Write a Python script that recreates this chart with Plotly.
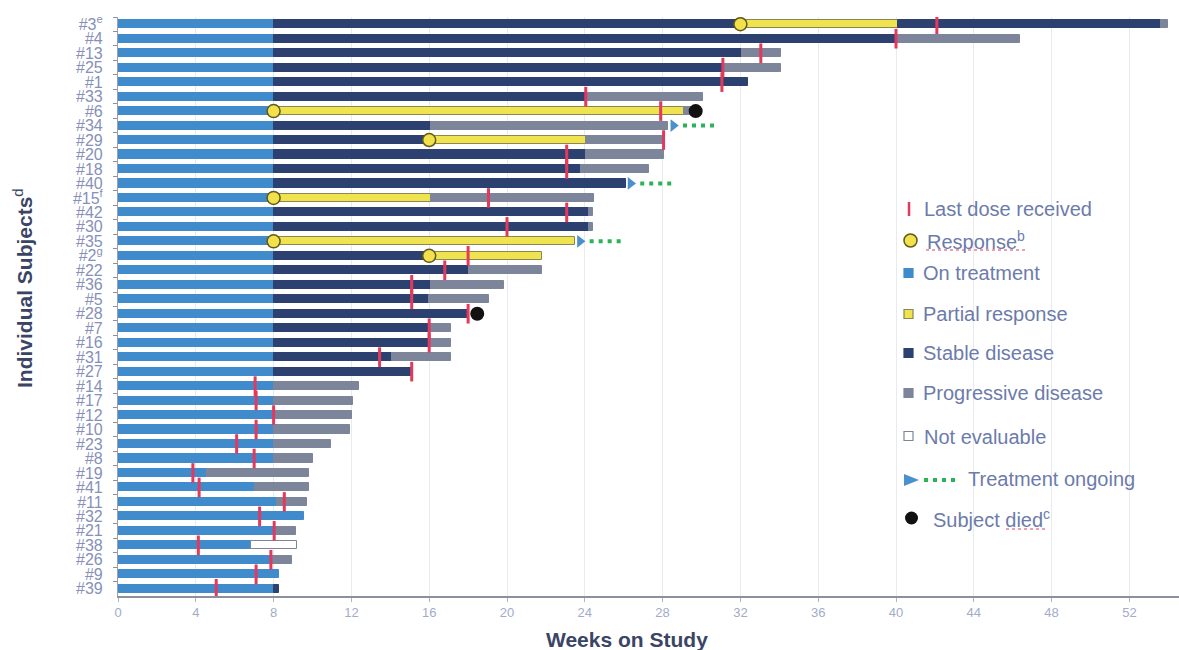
import plotly.graph_objects as go

# ---------------------------------------------------------------- data
subjects = ["#3<sup>e</sup>", "#4", "#13", "#25", "#1", "#33", "#6", "#34", "#29", "#20",
            "#18", "#40", "#15<sup>f</sup>", "#42", "#30", "#35", "#2<sup>g</sup>", "#22", "#36", "#5",
            "#28", "#7", "#16", "#31", "#27", "#14", "#17", "#12", "#10", "#23",
            "#8", "#19", "#41", "#11", "#32", "#21", "#38", "#26", "#9", "#39"]

# Each course is a run of (status, week the status ends); every course starts at week 0.
# T = on treatment, PR = partial response, SD = stable disease,
# PD = progressive disease, NE = not evaluable
courses = [
    [("T", 8), ("SD", 32), ("PR", 40.1), ("SD", 53.65), ("PD", 54.0)],
    [("T", 8), ("SD", 40.1), ("PD", 46.4)],
    [("T", 8), ("SD", 32.1), ("PD", 34.1)],
    [("T", 8), ("SD", 31.2), ("PD", 34.1)],
    [("T", 8), ("SD", 32.4)],
    [("T", 8), ("SD", 24.05), ("PD", 30.1)],
    [("T", 8), ("PR", 29.1), ("PD", 29.5)],
    [("T", 8), ("SD", 16.1), ("PD", 28.3)],
    [("T", 8), ("SD", 16.0), ("PR", 24.05), ("PD", 28.05)],
    [("T", 8), ("SD", 24.05), ("PD", 28.05)],
    [("T", 8), ("SD", 23.8), ("PD", 27.3)],
    [("T", 8), ("SD", 26.1)],
    [("T", 8), ("PR", 16.07), ("PD", 24.46)],
    [("T", 8), ("SD", 24.2), ("PD", 24.4)],
    [("T", 8), ("SD", 24.2), ("PD", 24.4)],
    [("T", 8), ("PR", 23.5)],
    [("T", 8), ("SD", 16.0), ("PR", 21.8)],
    [("T", 8), ("SD", 18.07), ("PD", 21.8)],
    [("T", 8), ("SD", 16.07), ("PD", 19.85)],
    [("T", 8), ("SD", 16.0), ("PD", 19.05)],
    [("T", 8), ("SD", 18.0)],
    [("T", 8), ("SD", 16.0), ("PD", 17.1)],
    [("T", 8), ("SD", 16.0), ("PD", 17.1)],
    [("T", 8), ("SD", 14.1), ("PD", 17.1)],
    [("T", 8), ("SD", 15.1)],
    [("T", 8), ("PD", 12.4)],
    [("T", 8), ("PD", 12.1)],
    [("T", 8), ("PD", 12.05)],
    [("T", 8), ("PD", 11.95)],
    [("T", 8), ("PD", 10.97)],
    [("T", 8), ("PD", 10.05)],
    [("T", 4.56), ("PD", 9.8)],
    [("T", 7.05), ("PD", 9.8)],
    [("T", 8.2), ("PD", 9.7)],
    [("T", 9.55)],
    [("T", 8), ("PD", 9.15)],
    [("T", 6.83), ("NE", 9.2)],
    [("T", 7.86), ("PD", 8.97)],
    [("T", 8.27)],
    [("T", 8), ("SD", 8.3)],
]

last_dose = [42.1, 40.0, 33.05, 31.1, 31.05, 24.05, 27.9, None, 28.05, 23.07,
             23.07, None, 19.05, 23.07, 20.0, None, 18.0, 16.8, 15.1, 15.1,
             18.0, 16.0, 16.0, 13.45, 15.1, 7.05, 7.1, 8.0, 7.1, 6.1,
             7.0, 3.85, 4.17, 8.55, 7.28, 8.03, 4.13, 7.86, 7.1, 5.05]

response_week = {"#3<sup>e</sup>": 32, "#6": 8, "#29": 16, "#15<sup>f</sup>": 8,
                 "#35": 8, "#2<sup>g</sup>": 16}
death_week = {"#6": 29.7, "#28": 18.47}
still_on_treatment = ["#34", "#40", "#35"]

x_ticks = list(range(0, 53, 4))

# ---------------------------------------------------------------- style
FONT = "Liberation Sans, Arial, sans-serif"
status_style = {
    "T":  dict(name="On treatment", fill="#3f8bcb", edge="#3f8bcb"),
    "PR": dict(name="Partial response", fill="#f0e350", edge="#8c8650"),
    "SD": dict(name="Stable disease", fill="#2d4170", edge="#2d4170"),
    "PD": dict(name="Progressive disease", fill="#7d859b", edge="#7d859b"),
    "NE": dict(name="Not evaluable", fill="#ffffff", edge="#7d859b"),
}
BAR_W = 0.56
RED = "#e23a5c"
LEGEND_TXT = "#6c7bab"
TICK_TXT = "#8690b8"

fig = go.Figure()

# status segments as horizontal floating bars
for code, st in status_style.items():
    ys, bases, lens = [], [], []
    for subj, course in zip(subjects, courses):
        start = 0.0
        for status, end in course:
            if status == code:
                ys.append(subj)
                bases.append(start)
                lens.append(end - start)
            start = end
    fig.add_trace(go.Bar(
        y=ys, x=lens, base=bases, orientation="h", width=BAR_W,
        marker=dict(color=st["fill"], line=dict(color=st["edge"], width=1)),
        name=st["name"], showlegend=False, hoverinfo="skip"))

# ongoing treatment: arrow head plus dotted tail after the last segment
for subj, course in zip(subjects, courses):
    if subj in still_on_treatment:
        end = course[-1][1]
        fig.add_trace(go.Scatter(
            x=[end + 0.75, end + 2.35], y=[subj, subj], mode="lines",
            line=dict(color="#2bb357", width=4, dash="4px,5px"),
            showlegend=False, hoverinfo="skip"))
        fig.add_trace(go.Scatter(
            x=[end + 0.25], y=[subj], mode="markers",
            marker=dict(symbol="triangle-right", size=11, color="#4b8fcf"),
            showlegend=False, hoverinfo="skip"))

# last dose received
ld_y = [s for s, d in zip(subjects, last_dose) if d is not None]
ld_x = [d for d in last_dose if d is not None]
fig.add_trace(go.Scatter(
    x=ld_x, y=ld_y, mode="markers",
    marker=dict(symbol="line-ns", size=14, line=dict(color=RED, width=3)),
    showlegend=False, hoverinfo="skip"))

# first response
fig.add_trace(go.Scatter(
    x=list(response_week.values()), y=list(response_week.keys()), mode="markers",
    marker=dict(symbol="circle", size=13, color="#f3e14b",
                line=dict(color="#5f5a1e", width=1.5)),
    showlegend=False, hoverinfo="skip"))

# death
fig.add_trace(go.Scatter(
    x=list(death_week.values()), y=list(death_week.keys()), mode="markers",
    marker=dict(symbol="circle", size=14, color="#111111"),
    showlegend=False, hoverinfo="skip"))

# ---------------------------------------------------------------- layout
L, R, T, B = 118, 0, 17, 54
W, H = 1179, 650
PW, PH = W - L - R, H - T - B


def px(x):
    return (x - L) / PW


def py(y):
    return (H - B - y) / PH


shapes, annotations = [], []

# hand-drawn key on the right
shapes.append(dict(type="line", xref="paper", yref="paper",
                   x0=px(909), x1=px(909), y0=py(202), y1=py(216),
                   line=dict(color=RED, width=2.5)))
shapes.append(dict(type="circle", xref="paper", yref="paper",
                   x0=px(904), x1=px(917), y0=py(247), y1=py(234),
                   fillcolor="#f3e14b", line=dict(color="#5f5a1e", width=1.5)))
for code, yc in [("T", 273), ("PR", 314), ("SD", 353), ("PD", 393), ("NE", 436)]:
    st = status_style[code]
    shapes.append(dict(type="rect", xref="paper", yref="paper",
                       x0=px(904), x1=px(913), y0=py(yc + 4.5), y1=py(yc - 4.5),
                       fillcolor=st["fill"], line=dict(color=st["edge"], width=1.2)))
shapes.append(dict(type="path", xref="paper", yref="paper",
                   path=f"M {px(904)} {py(474)} L {px(919)} {py(480)} L {px(904)} {py(486)} Z",
                   fillcolor="#4b8fcf", line=dict(width=0)))
shapes.append(dict(type="line", xref="paper", yref="paper",
                   x0=px(924), x1=px(960), y0=py(480), y1=py(480),
                   line=dict(color="#2bb357", width=4, dash="4px,5px")))
shapes.append(dict(type="circle", xref="paper", yref="paper",
                   x0=px(905), x1=px(918), y0=py(524.5), y1=py(511.5),
                   fillcolor="#111111", line=dict(width=0)))
# spell-check style squiggles under two key entries
shapes.append(dict(type="line", xref="paper", yref="paper",
                   x0=px(926), x1=px(1028), y0=py(250), y1=py(250),
                   line=dict(color=RED, width=1, dash="dot")))
shapes.append(dict(type="line", xref="paper", yref="paper",
                   x0=px(1006), x1=px(1047), y0=py(529), y1=py(529),
                   line=dict(color=RED, width=1, dash="dot")))

key_text = [
    (922, 209, "Last dose received"),
    (925, 240, "Response<sup>b</sup>"),
    (921, 273, "On treatment"),
    (921, 314, "Partial response"),
    (921, 353, "Stable disease"),
    (921, 393, "Progressive disease"),
    (922, 437, "Not evaluable"),
    (966, 479, "Treatment ongoing"),
    (931, 518, "Subject died<sup>c</sup>"),
]
for x, y, t in key_text:
    annotations.append(dict(xref="paper", yref="paper", x=px(x), y=py(y),
                            xanchor="left", yanchor="middle", text=t, showarrow=False,
                            font=dict(family=FONT, size=20, color=LEGEND_TXT)))

# axis titles
annotations.append(dict(xref="paper", yref="paper", x=px(627), y=py(639),
                        xanchor="center", yanchor="middle", showarrow=False,
                        text="<b>Weeks on Study</b>",
                        font=dict(family=FONT, size=21, color="#3a4566")))
annotations.append(dict(xref="paper", yref="paper", x=px(23), y=py(288),
                        xanchor="center", yanchor="middle", showarrow=False, textangle=-90,
                        text="<b>Individual Subjects</b><sup>d</sup>",
                        font=dict(family=FONT, size=21, color="#3a4566")))

fig.update_layout(
    width=W, height=H,
    margin=dict(l=L, r=R, t=T, b=B, pad=0),
    paper_bgcolor="white", plot_bgcolor="white",
    barmode="overlay", bargap=0,
    showlegend=False,
    shapes=shapes, annotations=annotations,
    font=dict(family=FONT),
    xaxis=dict(range=[0, PW / 19.45], tickvals=x_ticks, ticks="outside", ticklen=4,
               tickcolor="#b0b5c4", showgrid=True, gridcolor="#e8eaf1", gridwidth=1,
               showline=True, linecolor="#8c909c", linewidth=1.5, zeroline=False,
               tickfont=dict(family=FONT, size=13, color="#a3abc8"), fixedrange=True),
    yaxis=dict(type="category", categoryorder="array", categoryarray=subjects,
               range=[len(subjects) - 0.5, -0.5], autorange=False,
               tickmode="linear", tick0=0, dtick=1,
               tickson="boundaries", ticks="outside", ticklen=4,
               tickcolor="#8c909c", showgrid=False, showline=True, linecolor="#9aa0b0",
               linewidth=1.2, ticklabelstandoff=11,
               tickfont=dict(family=FONT, size=16, color=TICK_TXT), fixedrange=True),
)

fig.write_html("out.html")
